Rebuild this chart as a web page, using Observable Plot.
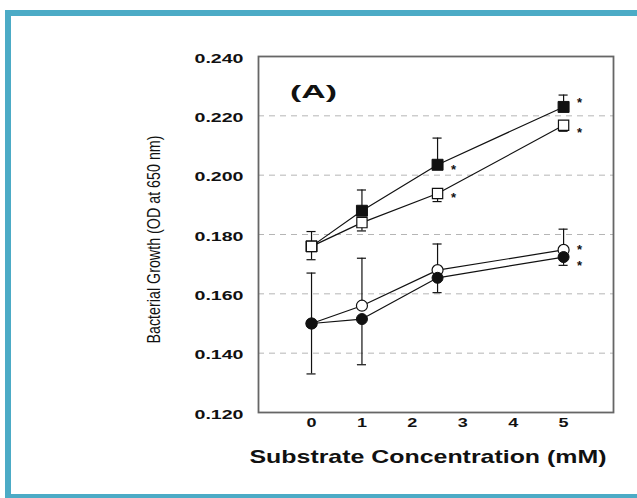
<!DOCTYPE html>
<html>
<head>
<meta charset="utf-8">
<script src="https://cdn.jsdelivr.net/npm/d3@7"></script>
<script src="https://cdn.jsdelivr.net/npm/@observablehq/plot@0.6"></script>
<style>
  html, body { margin: 0; padding: 0; background: #ffffff; width: 637px; height: 498px; overflow: hidden; }
  #chart { position: absolute; left: 0; top: 0; }
  #border { position: absolute; left: 5px; top: 10px; width: 700px; height: 490px; box-sizing: border-box;
            border: 6px solid #4cabc6; border-right: none; z-index: 2; pointer-events: none; }
</style>
</head>
<body>
<div id="chart"></div>
<div id="border"></div>
<script>
// ---- data ----
const concentrations = [0, 1, 2.5, 5];
const filledSquare    = [0.176, 0.188, 0.2035, 0.223];
const filledSquareErr = [0.005, 0.007, 0.009, 0.004];    // drawn upward
const openSquare      = [0.176, 0.184, 0.1938, 0.2168];
const openSquareErr   = [0.0045, 0.0028, 0.0027, 0.002]; // drawn downward
const openCircle      = [0.150, 0.156, 0.168, 0.1748];
const openCircleErr   = [0.017, 0.016, 0.0088, 0.007];   // drawn upward
const filledCircle    = [0.150, 0.1515, 0.1654, 0.1724];
const filledCircleErr = [0.017, 0.0154, 0.005, 0.0028];  // drawn downward

const yTickValues = [0.120, 0.140, 0.160, 0.180, 0.200, 0.220, 0.240];
const gridValues  = [0.140, 0.160, 0.180, 0.200, 0.220];
const xTickValues = [0, 1, 2, 3, 4, 5];

const starX = [2.5, 2.5, 5, 5, 5, 5];
const starY = [0.2033, 0.1938, 0.2258, 0.2157, 0.1763, 0.1709];

const panelLabel = {x: 0.04, y: 0.2282, text: "(A)"};
const xTitle = "Substrate Concentration (mM)";
const yTitle = "Bacterial Growth (OD at 650 nm)";

// ---- build tables ----
function series(name, values, errs, dir) {
  return concentrations.map((x, i) => ({series: name, x, y: values[i], err: errs[i], dir}));
}
const fsRows = series("filledSquare", filledSquare, filledSquareErr, 1);
const osRows = series("openSquare", openSquare, openSquareErr, -1);
const ocRows = series("openCircle", openCircle, openCircleErr, 1);
const fcRows = series("filledCircle", filledCircle, filledCircleErr, -1);
const rows = [...fsRows, ...osRows, ...ocRows, ...fcRows];
const stars = starX.map((x, i) => ({x, y: starY[i]}));

const capHalf = 0.09;
const ink = "#111";

const plot = Plot.plot({
  width: 637,
  height: 498,
  marginLeft: 258,
  marginRight: 24,
  marginTop: 56,
  marginBottom: 86,
  style: {fontFamily: "'Liberation Sans', Arial, sans-serif", background: "transparent", overflow: "visible"},
  x: {domain: [-1.052, 5.99], axis: null},
  y: {domain: [0.120, 0.240], axis: null},
  marks: [
    Plot.ruleY(gridValues, {stroke: "#b5b5b5", strokeWidth: 1, strokeDasharray: "6,5"}),
    Plot.frame({stroke: "#666", strokeWidth: 1.8}),
    // error bars (one-sided)
    Plot.ruleX(rows, {x: "x", y1: "y", y2: d => d.y + d.dir * d.err, stroke: ink, strokeWidth: 1.2}),
    Plot.ruleY(rows, {y: d => d.y + d.dir * d.err, x1: d => d.x - capHalf, x2: d => d.x + capHalf, stroke: ink, strokeWidth: 1.2}),
    // connecting lines
    Plot.line(rows, {x: "x", y: "y", z: "series", stroke: ink, strokeWidth: 1.2}),
    // markers
    Plot.dot(fsRows, {x: "x", y: "y", symbol: "square", r: 6.2, fill: ink, stroke: ink, strokeWidth: 1}),
    Plot.dot(osRows, {x: "x", y: "y", symbol: "square", r: 5.8, fill: "white", stroke: ink, strokeWidth: 1.2}),
    Plot.dot(ocRows, {x: "x", y: "y", symbol: "circle", r: 5.5, fill: "white", stroke: ink, strokeWidth: 1.2}),
    Plot.dot(fcRows, {x: "x", y: "y", symbol: "circle", r: 5.5, fill: ink, stroke: ink, strokeWidth: 1}),
    // significance asterisks
    Plot.text(stars, {x: "x", y: "y", text: () => "*", dx: 16, dy: 4, fontSize: 13, fontWeight: "bold", fill: ink}),
    // panel label
    Plot.text([panelLabel], {x: "x", y: "y", text: "text", fontSize: 19, fontWeight: "bold", fill: ink,
      ariaLabel: () => "panel-label"}),
    // y tick labels
    Plot.text(yTickValues, {y: d => d, text: d => d3.format(".3f")(d), frameAnchor: "left", textAnchor: "end", dx: -15, dy: 2,
      fontSize: 12.5, fontWeight: "bold", fill: ink, ariaLabel: () => "ytick-labels"}),
    // x tick labels
    Plot.text(xTickValues, {x: d => d, text: d => String(d), frameAnchor: "bottom", textAnchor: "middle", dy: 14,
      fontSize: 12.5, fontWeight: "bold", fill: ink, ariaLabel: () => "xtick-labels"}),
    // axis titles
    Plot.text([xTitle], {text: d => d, frameAnchor: "bottom", textAnchor: "middle", dy: 50, dx: -8, fontSize: 19,
      fontWeight: "bold", fill: ink, ariaLabel: () => "x-title"}),
    Plot.text([yTitle], {text: d => d, frameAnchor: "left", textAnchor: "middle", dx: -104, dy: 5, rotate: -90, fontSize: 18,
      fontFamily: "'Liberation Sans Narrow', 'Arial Narrow', 'Liberation Sans', sans-serif", fill: ink,
      ariaLabel: () => "y-title"})
  ]
});

document.getElementById("chart").appendChild(plot);

// stretch text horizontally like the scanned reference
const svg = d3.select(plot);
const stretch = (label, len) => svg.selectAll(`text[aria-label="${label}"]`)
  .attr("textLength", len).attr("lengthAdjust", "spacingAndGlyphs");
stretch("ytick-labels", 49);
stretch("xtick-labels", 10);
stretch("panel-label", 47);
stretch("x-title", 357);
stretch("y-title", 208);
</script>
</body>
</html>
